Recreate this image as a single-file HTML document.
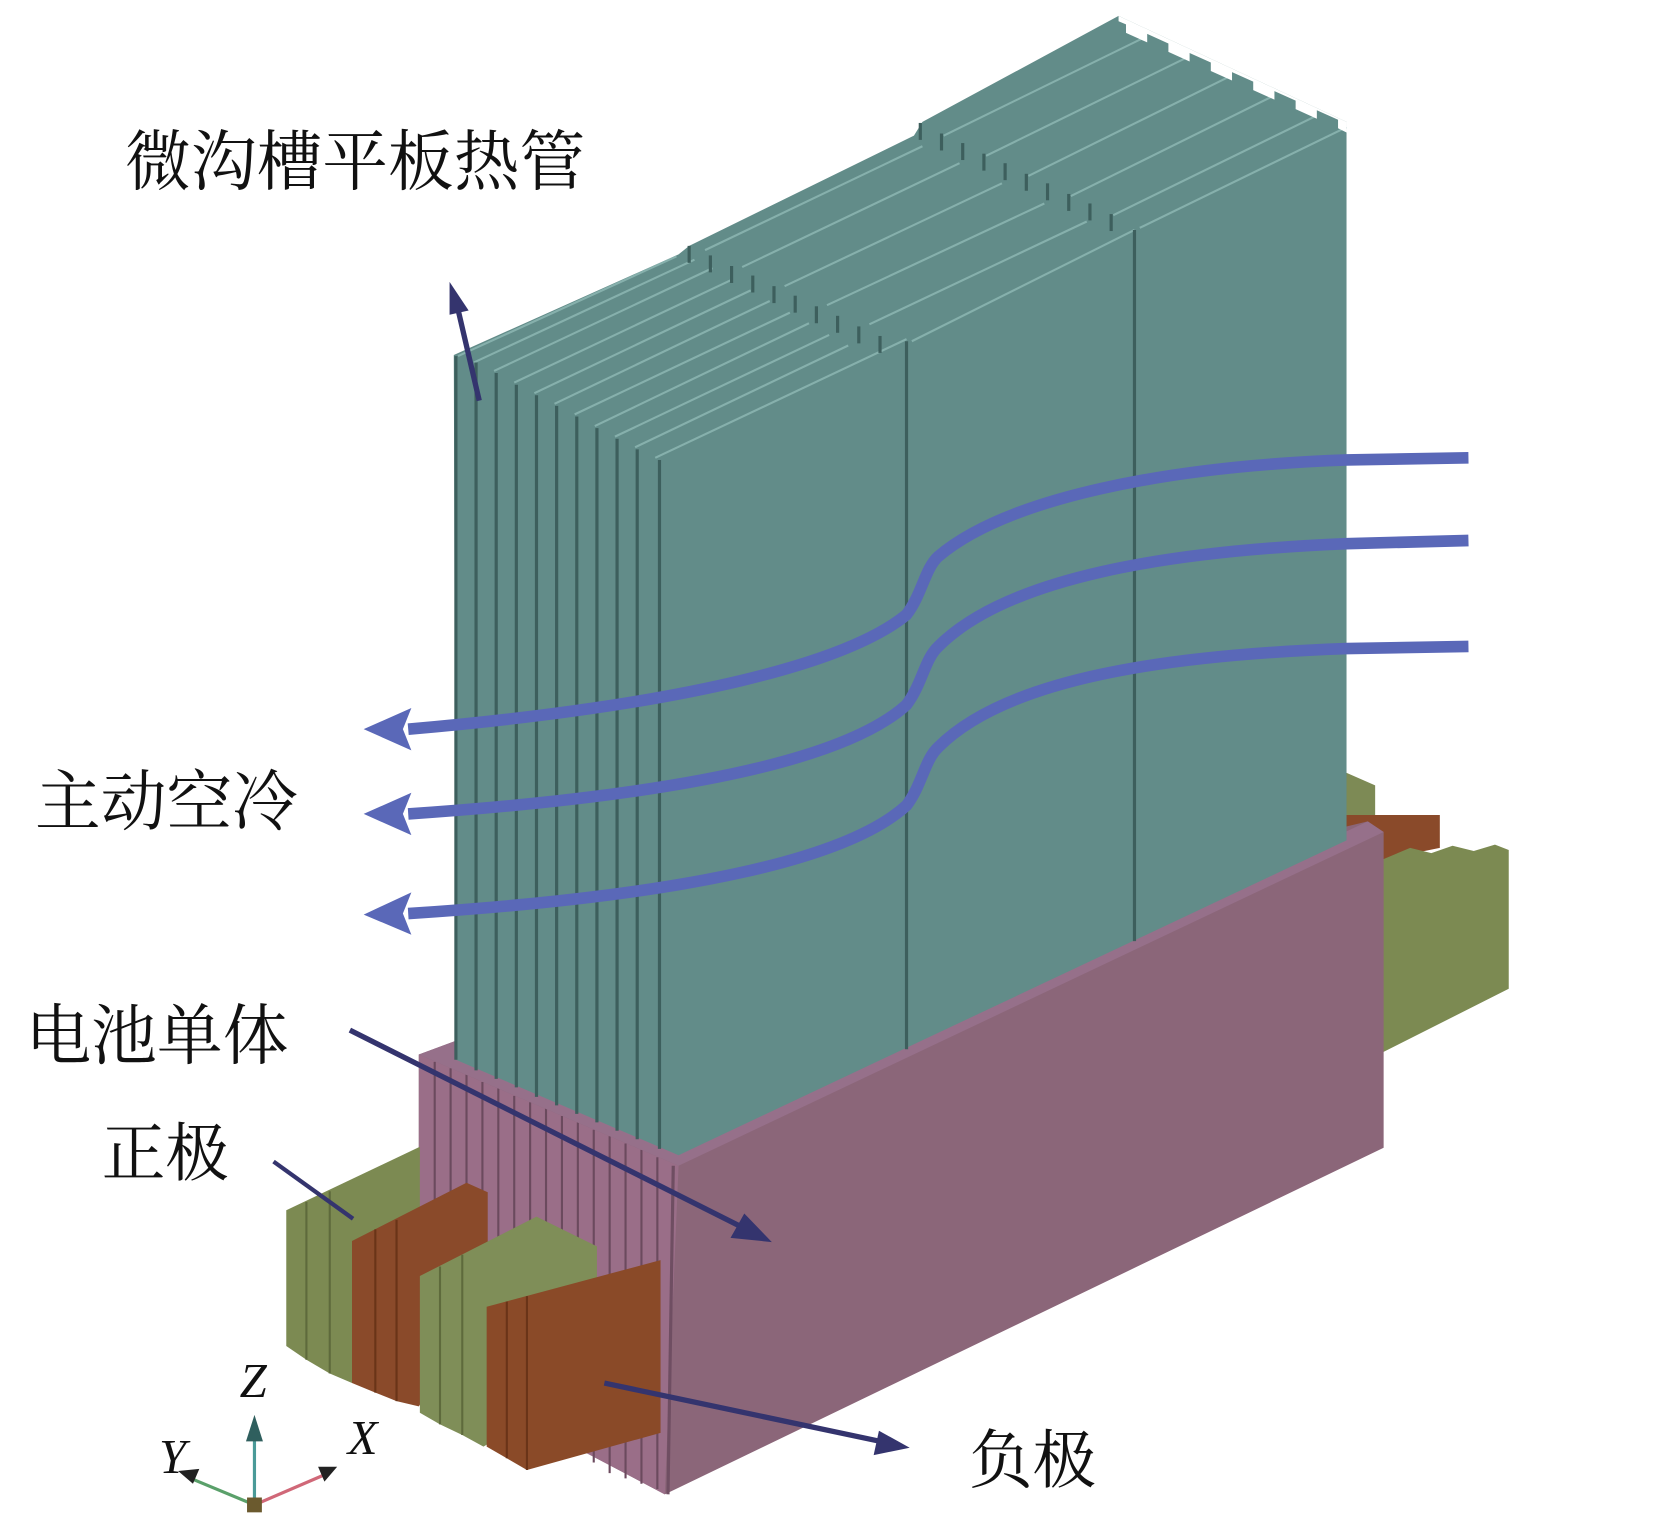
<!DOCTYPE html>
<html><head><meta charset="utf-8"><style>
html,body{margin:0;padding:0;background:#fff;}
svg{display:block;}
text{font-family:"Liberation Serif","Noto Serif CJK SC",serif;fill:#111;}
</style></head><body>
<svg width="1654" height="1524" viewBox="0 0 1560 1438" preserveAspectRatio="none" xmlns="http://www.w3.org/2000/svg">
<rect width="1560" height="1438" fill="#fff"/>
<!-- right side electrodes -->
<polygon points="1265,727 1297,741 1297,800 1265,800" fill="#7d8a55"/>
<polygon points="1270,769 1358,769 1358,800 1304,811 1270,800" fill="#8a4a2a"/>
<polygon points="1304,811 1330,800 1350,805 1370,798 1390,803 1410,797 1423,802 1423,933 1304,993" fill="#7c8a52"/>
<!-- pink box -->
<polygon points="395,995 430,982 1290,775 1305,785 1305,1083 627,1410 553,1371 395,1300" fill="#8b6679"/>
<polygon points="395,995 640,1100 627,1410 553,1371 395,1300" fill="#9a6e88"/>
<g stroke="#6b4a5e" stroke-width="2">
<line x1="410" y1="1002" x2="410" y2="1300"/><line x1="425" y1="1008" x2="425" y2="1300"/>
<line x1="440" y1="1014" x2="440" y2="1310"/><line x1="455" y1="1021" x2="455" y2="1320"/>
<line x1="470" y1="1027" x2="470" y2="1330"/><line x1="485" y1="1034" x2="485" y2="1340"/>
<line x1="500" y1="1040" x2="500" y2="1350"/><line x1="515" y1="1046" x2="515" y2="1360"/>
<line x1="530" y1="1053" x2="530" y2="1365"/><line x1="545" y1="1059" x2="545" y2="1370"/>
<line x1="560" y1="1066" x2="560" y2="1380"/><line x1="575" y1="1072" x2="575" y2="1390"/>
<line x1="590" y1="1079" x2="590" y2="1395"/><line x1="605" y1="1085" x2="605" y2="1400"/>
<line x1="620" y1="1092" x2="620" y2="1405"/>
</g>
<line x1="635" y1="1100" x2="630" y2="1410" stroke="#6f4e62" stroke-width="3"/>
<polygon points="395,995 430,982 640,1082 1290,775 1305,785 640,1100" fill="#96708a"/>
<!-- teal heat pipes -->
<polygon points="428,335 640,240 650,232 862,128 870,115 1055,15 1270,115 1270,793 640,1090 430,1000" fill="#628c89"/>
<g stroke="#86b0ac" stroke-width="2" fill="none">
<line x1="432" y1="336" x2="638" y2="242"/><line x1="447" y1="342" x2="655" y2="245"/>
<line x1="466" y1="350" x2="672" y2="253"/><line x1="485" y1="361" x2="690" y2="264"/>
<line x1="504" y1="371" x2="708" y2="274"/><line x1="523" y1="381" x2="726" y2="284"/>
<line x1="542" y1="391" x2="745" y2="295"/><line x1="561" y1="402" x2="763" y2="305"/>
<line x1="580" y1="412" x2="782" y2="316"/><line x1="599" y1="422" x2="800" y2="326"/>
<line x1="618" y1="432" x2="855" y2="320"/>
<line x1="665" y1="236" x2="870" y2="138"/><line x1="700" y1="252" x2="905" y2="154"/>
<line x1="740" y1="270" x2="945" y2="173"/><line x1="780" y1="288" x2="985" y2="192"/>
<line x1="820" y1="306" x2="1025" y2="209"/><line x1="860" y1="322" x2="1070" y2="217"/>
<line x1="890" y1="128" x2="1080" y2="35"/><line x1="930" y1="147" x2="1120" y2="54"/>
<line x1="970" y1="166" x2="1160" y2="72"/><line x1="1010" y1="185" x2="1200" y2="91"/>
<line x1="1050" y1="203" x2="1240" y2="110"/><line x1="1075" y1="215" x2="1270" y2="120"/>
</g>
<g stroke="#3d5f5d" stroke-width="3">
<line x1="430" y1="336" x2="430" y2="1000"/><line x1="449" y1="342" x2="449" y2="1010"/>
<line x1="468" y1="352" x2="468" y2="1018"/><line x1="487" y1="363" x2="487" y2="1026"/>
<line x1="506" y1="373" x2="506" y2="1035"/><line x1="525" y1="383" x2="525" y2="1043"/>
<line x1="544" y1="393" x2="544" y2="1051"/><line x1="563" y1="404" x2="563" y2="1059"/>
<line x1="582" y1="414" x2="582" y2="1067"/><line x1="601" y1="424" x2="601" y2="1075"/>
<line x1="622" y1="434" x2="622" y2="1084"/>
<line x1="855" y1="322" x2="855" y2="990"/><line x1="1070" y1="217" x2="1070" y2="888"/>
</g>
<g stroke="#3d5f5d" stroke-width="3">
<line x1="650" y1="232" x2="650" y2="248"/><line x1="670" y1="241" x2="670" y2="257"/>
<line x1="690" y1="251" x2="690" y2="267"/><line x1="710" y1="260" x2="710" y2="276"/>
<line x1="730" y1="270" x2="730" y2="286"/><line x1="750" y1="279" x2="750" y2="295"/>
<line x1="770" y1="289" x2="770" y2="305"/><line x1="790" y1="298" x2="790" y2="314"/>
<line x1="810" y1="308" x2="810" y2="324"/><line x1="830" y1="317" x2="830" y2="333"/>
<line x1="868" y1="116" x2="868" y2="132"/><line x1="888" y1="126" x2="888" y2="142"/>
<line x1="908" y1="135" x2="908" y2="151"/><line x1="928" y1="145" x2="928" y2="161"/>
<line x1="948" y1="154" x2="948" y2="170"/><line x1="968" y1="164" x2="968" y2="180"/>
<line x1="988" y1="173" x2="988" y2="189"/><line x1="1008" y1="183" x2="1008" y2="199"/>
<line x1="1028" y1="192" x2="1028" y2="208"/><line x1="1048" y1="202" x2="1048" y2="218"/>
</g>
<polygon points="1055,15 1270,115 1270,125 1262,121 1262,113 1242,104 1242,112 1222,103 1222,95 1202,86 1202,94 1182,85 1182,77 1162,68 1162,76 1142,67 1142,59 1122,50 1122,58 1102,49 1102,41 1082,32 1082,40 1062,31 1062,23 1055,20" fill="#fff"/>
<!-- electrodes front -->
<polygon points="270,1142 396,1082 396,1210 332,1305 311,1296 289,1283 270,1270" fill="#7c8a52"/>
<g stroke="#5e6a3c" stroke-width="2"><line x1="289" y1="1134" x2="289" y2="1283"/><line x1="311" y1="1124" x2="311" y2="1296"/></g>
<polygon points="332,1171 440,1116 460,1125 460,1230 395,1327 374,1322 354,1314 332,1305" fill="#8a4a2a"/>
<g stroke="#6a3418" stroke-width="2"><line x1="354" y1="1160" x2="354" y2="1314"/><line x1="374" y1="1151" x2="374" y2="1322"/></g>
<polygon points="396,1204 506,1148 563,1176 563,1300 456,1365 436,1354 415,1344 396,1333" fill="#7f8e58"/>
<g stroke="#5e6a3c" stroke-width="2"><line x1="415" y1="1195" x2="415" y2="1344"/><line x1="436" y1="1184" x2="436" y2="1354"/></g>
<polygon points="459,1233 623,1189 623,1352 497,1387 478,1376 459,1365" fill="#8a4a28"/>
<g stroke="#6a3418" stroke-width="2"><line x1="478" y1="1228" x2="478" y2="1376"/><line x1="497" y1="1223" x2="497" y2="1387"/></g>
<!-- air flow -->
<g stroke="#5a68b8" stroke-width="11" fill="none" stroke-linecap="butt">
<path d="M1385,432 L1270,434 C1100,440 950,470 885,525 C872,537 870,560 855,580 C800,625 650,665 385,688"/>
<path d="M1385,510 L1270,513 C1100,520 950,545 885,610 C872,622 870,645 855,665 C800,715 650,750 385,768"/>
<path d="M1385,610 L1270,612 C1100,618 950,640 885,705 C872,717 870,740 855,760 C800,810 650,845 385,862"/>
</g>
<g fill="#5a68b8">
<polygon points="343,688 388,668 380,688 388,708"/>
<polygon points="343,768 388,748 380,768 388,788"/>
<polygon points="343,863 388,842 380,862 388,882"/>
</g>
<!-- navy pointers -->
<g stroke="#34346e" stroke-width="5" fill="#34346e">
<line x1="452" y1="378" x2="432" y2="292"/>
<polygon points="424,266 442,293 424,297" stroke="none"/>
<line x1="330" y1="972" x2="700" y2="1158"/>
<polygon points="728,1172 689,1168 702,1145" stroke="none"/>
<line x1="258" y1="1096" x2="333" y2="1150" stroke-width="4"/>
<line x1="570" y1="1305" x2="830" y2="1360"/>
<polygon points="858,1366 824,1373 829,1350" stroke="none"/>
</g>
<!-- axis -->
<line x1="240" y1="1418" x2="240" y2="1355" stroke="#4a9a98" stroke-width="3"/>
<polygon points="240,1335 232,1360 248,1360" fill="#2f5f5e"/>
<line x1="240" y1="1420" x2="180" y2="1395" stroke="#5aa06a" stroke-width="3"/>
<polygon points="168,1388 188,1386 182,1400" fill="#222"/>
<line x1="240" y1="1420" x2="305" y2="1392" stroke="#d06878" stroke-width="3"/>
<polygon points="318,1384 300,1384 306,1398" fill="#222"/>
<rect x="233" y="1413" width="14" height="14" fill="#6b5a2e"/>
<text x="226" y="1318" font-size="46" font-style="italic">Z</text>
<text x="150" y="1390" font-size="46" font-style="italic">Y</text>
<text x="328" y="1372" font-size="46" font-style="italic">X</text>
<!-- labels -->
<text x="118" y="174" font-size="62">微沟槽平板热管</text>
<text x="33" y="778" font-size="62">主动空冷</text>
<text x="24" y="999" font-size="62">电池单体</text>
<text x="96" y="1109" font-size="60">正极</text>
<text x="914" y="1399" font-size="60">负极</text>
</svg>
</body></html>
